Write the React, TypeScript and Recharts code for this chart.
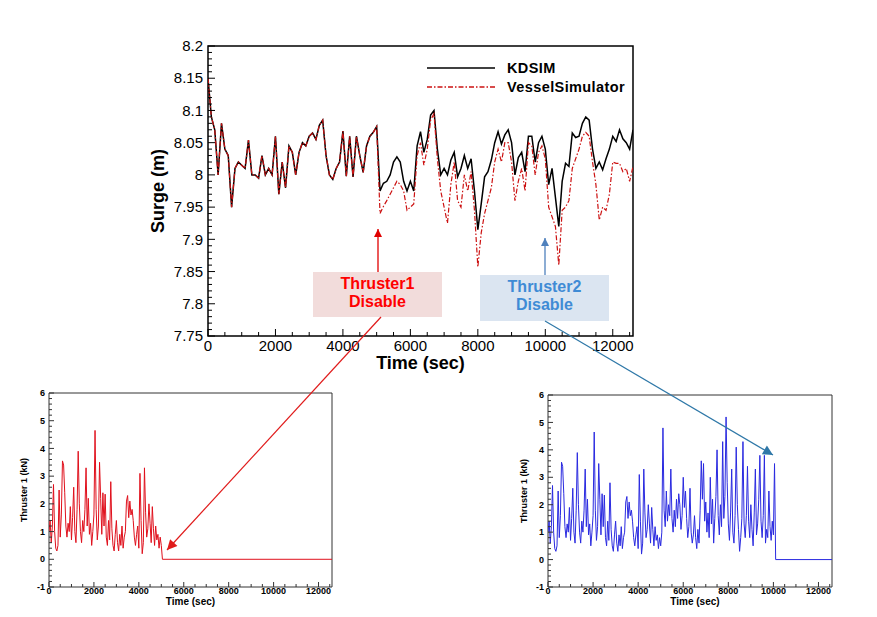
import { LineChart, Line, XAxis, YAxis, ReferenceArea, Legend } from 'recharts';

// Surge (m) every 100 s. Both runs lie on top of each other until thruster 1 is cut at 5000 s.
const surgeShared = [
  8.15, 8.09, 8.07, 8.0, 8.08, 8.04, 8.03, 7.95, 8.01, 8.02,
  8.015, 8.01, 8.054, 8.0, 8.0, 7.995, 8.03, 8.0, 8.01, 8.0,
  8.06, 7.97, 8.02, 7.98, 8.045, 8.035, 8.0, 8.035, 8.05, 8.045,
  8.06, 8.065, 8.055, 8.077, 8.085, 8.03, 8.0, 7.993, 8.01, 8.02,
  8.068, 7.998, 8.06, 7.997, 8.06, 8.03, 8.004, 8.045, 8.06, 8.066,
  8.075,
];
// 5100 .. 12600 s
const kdsimAfter = [
  7.975, 7.987, 7.99, 8.0, 8.02, 8.028, 8.02, 7.99, 7.975, 7.99,
  7.975, 8.045, 8.067, 8.035, 8.055, 8.093, 8.1, 8.04, 8.0, 8.01,
  8.0, 8.023, 8.035, 7.997, 8.01, 8.03, 8.01, 8.025, 7.975, 7.915,
  7.955, 7.997, 8.005, 8.023, 8.05, 8.067, 8.048, 8.062, 8.07, 8.05,
  8.0, 8.027, 8.035, 8.005, 8.06, 8.06, 8.02, 8.05, 8.06, 8.04,
  7.985, 8.01, 7.965, 7.92, 7.99, 8.018, 8.013, 8.065, 8.058, 8.06,
  8.08, 8.09, 8.085, 8.04, 8.01, 8.02, 8.008, 8.025, 8.04, 8.06,
  8.052, 8.07, 8.056, 8.05, 8.04, 8.07,
];
const vesselAfter = [
  7.94, 7.951, 7.96, 7.97, 7.98, 7.99, 7.985, 7.975, 7.945, 7.95,
  7.955, 8.03, 8.05, 8.015, 8.04, 8.085, 8.095, 8.025, 7.975, 7.95,
  7.925, 7.985, 8.02, 7.96, 7.95, 8.0, 7.975, 8.005, 7.945, 7.857,
  7.91, 7.94, 7.96, 7.98, 8.02, 8.04, 8.02, 8.05, 8.05, 8.02,
  7.96, 7.99, 8.01, 7.975, 8.05, 8.045, 8.0, 8.035, 8.045, 8.025,
  7.95, 7.935, 7.92, 7.86, 7.945, 7.95, 7.96, 8.01, 8.025, 8.04,
  8.06, 8.066, 8.06, 8.02, 7.985, 7.93, 7.95, 7.945, 7.97, 8.02,
  8.018, 8.018, 8.005, 8.01, 7.99, 8.013,
];

// Thruster force (kN) every 50 s, 0 .. 5000 s (same in both lower plots)
const thrusterShared = [
  1.0, 1.4, 0.6, 1.2, 2.7, 1.0, 0.4, 0.3, 0.5, 2.5,
  0.8, 1.6, 3.55, 3.4, 2.4, 1.2, 0.8, 1.3, 1.0, 1.9,
  0.7, 1.5, 2.6, 1.0, 0.6, 1.8, 3.9, 2.0, 1.0, 0.6,
  1.4, 1.0, 1.8, 3.3, 1.2, 2.2, 0.9, 1.3, 0.5, 1.0,
  1.6, 4.65, 1.8, 0.7, 1.2, 3.5, 2.2, 0.9, 2.4, 1.2,
  2.35, 0.8, 0.5, 1.4, 0.7, 2.8, 1.1, 0.5, 0.3, 0.9,
  1.4, 0.6, 0.3, 0.9, 0.5, 1.2, 0.4, 0.8, 1.0, 2.1,
  2.3, 1.5, 2.1, 1.6, 1.8, 1.4, 0.8, 0.5, 0.9, 1.2,
  0.4, 3.1, 1.4, 0.2, 0.6, 3.3, 1.7, 0.8, 1.1, 2.0,
  1.3, 0.6, 1.9, 1.1, 0.5, 1.2, 0.7, 0.9, 0.4, 0.8,
  0.5,
];
// 5050 .. 10050 s, second plot only
const thruster2After = [
  1.0, 4.8, 1.8, 1.2, 2.5, 1.4, 2.0, 1.6, 3.3, 1.5,
  1.0, 1.8, 1.2, 2.2, 1.5, 2.4, 2.0, 1.1, 1.6, 3.0,
  1.9, 2.5, 1.5, 0.8, 1.2, 2.6, 1.0, 0.6, 0.9, 1.6,
  0.8, 0.4, 1.1, 0.6, 1.8, 3.6, 2.2, 3.5, 1.4, 2.1,
  1.0, 1.7, 0.8, 3.0, 1.3, 2.2, 0.6, 1.5, 2.3, 4.0,
  1.6, 0.9, 2.0, 1.2, 4.3, 1.5, 2.3, 5.2, 2.8, 1.3,
  0.7, 1.7, 3.3, 1.0, 0.6, 1.6, 4.1, 2.0, 1.1, 0.3,
  0.8, 1.5, 4.3, 1.3, 0.8, 1.6, 3.4, 1.4, 0.8, 2.0,
  1.1, 0.5, 1.7, 3.3, 0.9, 1.3, 2.2, 3.8, 1.4, 0.8,
  1.6, 3.8, 0.6, 1.1, 0.8, 2.5, 1.2, 0.7, 1.4, 0.9,
  3.5,
];
const thruster1Off = [{ t: 5050, v: 0 }, { t: 12600, v: 0 }];
const thruster2Off = [{ t: 10100, v: 0 }, { t: 12600, v: 0 }];

const timeMajor = [0, 2000, 4000, 6000, 8000, 10000, 12000];
const surgeMajor = [7.75, 7.8, 7.85, 7.9, 7.95, 8, 8.05, 8.1, 8.15, 8.2];
const forceMajor = [-1, 0, 1, 2, 3, 4, 5, 6];

const FONT = '"Liberation Sans", Arial, sans-serif';

const range = (from: number, to: number, step: number) => {
  const out: number[] = [];
  const n = Math.round((to - from) / step);
  for (let i = 0; i <= n; i++) out.push(Math.round((from + i * step) * 1000) / 1000);
  return out;
};

const timeTicks = range(0, 12500, 500);
const surgeTicks = range(7.75, 8.2, 0.01);
const forceTicks = range(-1, 6, 0.2);

const surgeData = [...surgeShared, ...kdsimAfter].map((v, i) => ({
  t: i * 100,
  kdsim: v,
  vessel: [...surgeShared, ...vesselAfter][i],
}));
const thrusterOn = thrusterShared.map((v, i) => ({ t: i * 50, v }));
const thruster1Data = [...thrusterOn, ...thruster1Off];
const thruster2Data = [
  ...thrusterOn,
  ...thruster2After.map((v, i) => ({ t: 5050 + i * 50, v })),
  ...thruster2Off,
];

const isMajor = (majors: number[], v: number) => majors.some(m => Math.abs(m - v) < 1e-6);

// ticks point into the plot, labels only on the major ones
function makeYTick(majors: number[], fontSize: number, weight: number, len: [number, number], color: string, gap: number) {
  return (props: any) => {
    const { x, y, payload } = props;
    const major = isMajor(majors, payload.value);
    return (
      <g>
        <line x1={x} y1={y} x2={x + (major ? len[0] : len[1])} y2={y} stroke={color} strokeWidth={1} />
        {major && (
          <text x={x - gap} y={y} dy="0.35em" textAnchor="end" fontSize={fontSize} fontWeight={weight} fontFamily={FONT} fill="#000">
            {String(payload.value)}
          </text>
        )}
      </g>
    );
  };
}

function makeXTick(majors: number[], fontSize: number, weight: number, len: [number, number], color: string, gap: number) {
  return (props: any) => {
    const { x, y, payload } = props;
    const major = isMajor(majors, payload.value);
    return (
      <g>
        <line x1={x} y1={y} x2={x} y2={y - (major ? len[0] : len[1])} stroke={color} strokeWidth={1} />
        {major && (
          <text x={x} y={y + gap} dy="0.71em" textAnchor="middle" fontSize={fontSize} fontWeight={weight} fontFamily={FONT} fill="#000">
            {String(payload.value)}
          </text>
        )}
      </g>
    );
  };
}

function makeYTitle(text: string, dx: number, fontSize: number) {
  return (props: any) => {
    const vb = props.viewBox || { x: 0, y: 0, height: 0 };
    const cx = vb.x + dx;
    const cy = vb.y + vb.height / 2;
    return (
      <text x={cx} y={cy} transform={`rotate(-90 ${cx} ${cy})`} textAnchor="middle" dominantBaseline="central"
        fontSize={fontSize} fontWeight={700} fontFamily={FONT} fill="#000">
        {text}
      </text>
    );
  };
}

function makeXTitle(text: string, dy: number, fontSize: number, dx = 0) {
  return (props: any) => {
    const vb = props.viewBox || { x: 0, y: 0, width: 0 };
    return (
      <text x={vb.x + vb.width / 2 + dx} y={vb.y + dy} textAnchor="middle" dominantBaseline="central"
        fontSize={fontSize} fontWeight={700} fontFamily={FONT} fill="#000">
        {text}
      </text>
    );
  };
}

const VESSEL_DASH = '5 2 1.5 2';
const legendItems = [
  { name: 'KDSIM', color: '#000', dash: undefined as string | undefined },
  { name: 'VesselSimulator', color: '#cc1111', dash: VESSEL_DASH },
];

function SurgeLegend() {
  return (
    <div style={{ fontFamily: FONT, fontWeight: 700, fontSize: 14.5, color: '#000' }}>
      {legendItems.map(it => (
        <div key={it.name} style={{ display: 'flex', alignItems: 'center', height: 19 }}>
          <svg width={68} height={4} style={{ display: 'block' }}>
            <line x1={0} x2={68} y1={2} y2={2} stroke={it.color} strokeWidth={1.3} strokeDasharray={it.dash} />
          </svg>
          <span style={{ marginLeft: 12, whiteSpace: 'nowrap', letterSpacing: 0.4 }}>{it.name}</span>
        </div>
      ))}
    </div>
  );
}

function SurgeChart() {
  return (
    <LineChart width={510} height={350} data={surgeData} margin={{ top: 16, right: 17, bottom: 0, left: 0 }}>
      <XAxis dataKey="t" type="number" domain={[0, 12600]} ticks={timeTicks} interval={0} allowDataOverflow
        tickSize={0} tickMargin={0} axisLine={false} tickLine={false} height={44}
        tick={makeXTick(timeMajor, 15, 400, [7, 4], '#000', 4)} label={makeXTitle('Time (sec)', 27, 18)} />
      <YAxis type="number" domain={[7.75, 8.2]} ticks={surgeTicks} interval={0} allowDataOverflow
        tickSize={0} tickMargin={0} axisLine={false} tickLine={false} width={68}
        tick={makeYTick(surgeMajor, 15, 400, [7, 4], '#000', 5)} label={makeYTitle('Surge (m)', 18, 18)} />
      <ReferenceArea x1={0} x2={12600} y1={7.75} y2={8.2} fill="none" stroke="#000" strokeWidth={1.5} ifOverflow="visible" />
      <Line type="linear" dataKey="kdsim" name="KDSIM" stroke="#000" strokeWidth={1.5} dot={false} isAnimationActive={false} />
      <Line type="linear" dataKey="vessel" name="VesselSimulator" stroke="#cc1111" strokeWidth={1.2}
        strokeDasharray={VESSEL_DASH} dot={false} isAnimationActive={false} />
      <Legend layout="vertical" align="center" verticalAlign="middle" content={<SurgeLegend />}
        wrapperStyle={{ left: 287, top: 28, width: 220 }} />
    </LineChart>
  );
}

function ThrusterChart({ data, color, width, height, titleDx, xTitleDx }: {
  data: { t: number; v: number }[]; color: string; width: number; height: number; titleDx: number; xTitleDx: number;
}) {
  return (
    <LineChart width={width} height={height} data={data} margin={{ top: 10, right: 13, bottom: 0, left: 0 }}>
      <XAxis dataKey="t" type="number" domain={[0, 12600]} ticks={timeTicks} interval={0} allowDataOverflow
        tickSize={0} tickMargin={0} axisLine={false} tickLine={false} height={30}
        tick={makeXTick(timeMajor, 9, 700, [5, 3], '#333', 1)} label={makeXTitle('Time (sec)', 14, 10, xTitleDx)} />
      <YAxis type="number" domain={[-1, 6]} ticks={forceTicks} interval={0} allowDataOverflow
        tickSize={0} tickMargin={0} axisLine={false} tickLine={false} width={49}
        tick={makeYTick(forceMajor, 9, 700, [5, 3], '#333', 4)} label={makeYTitle('Thruster 1 (kN)', titleDx, 9)} />
      <ReferenceArea x1={0} x2={12600} y1={-1} y2={6} fill="none" stroke="#333" strokeWidth={1} ifOverflow="visible" />
      <Line type="linear" dataKey="v" stroke={color} strokeWidth={1} dot={false} isAnimationActive={false} />
    </LineChart>
  );
}

function Callout({ x, y, w, h, fill, color, lines }: {
  x: number; y: number; w: number; h: number; fill: string; color: string; lines: string[];
}) {
  return (
    <g>
      <rect x={x} y={y} width={w} height={h} fill={fill} />
      {lines.map((l, i) => (
        <text key={l} x={x + w / 2} y={y + 17 + i * 18} textAnchor="middle" fontSize={16} fontWeight={700}
          fontFamily={FONT} fill={color}>
          {l}
        </text>
      ))}
    </g>
  );
}

function Annotations() {
  return (
    <svg width={877} height={617} style={{ position: 'absolute', left: 0, top: 0, pointerEvents: 'none' }}>
      <defs>
        <marker id="headRed" viewBox="0 0 10 10" refX={10} refY={5} markerWidth={12} markerHeight={10}
          markerUnits="userSpaceOnUse" orient="auto">
          <path d="M0,0 L10,5 L0,10 z" fill="#e01b1b" />
        </marker>
        <marker id="headBlue" viewBox="0 0 10 10" refX={10} refY={5} markerWidth={12} markerHeight={10}
          markerUnits="userSpaceOnUse" orient="auto">
          <path d="M0,0 L10,5 L0,10 z" fill="#2f78a8" />
        </marker>
        <marker id="headRedS" viewBox="0 0 10 10" refX={10} refY={5} markerWidth={9} markerHeight={8}
          markerUnits="userSpaceOnUse" orient="auto">
          <path d="M0,0 L10,5 L0,10 z" fill="#e00000" />
        </marker>
        <marker id="headBlueS" viewBox="0 0 10 10" refX={10} refY={5} markerWidth={9} markerHeight={8}
          markerUnits="userSpaceOnUse" orient="auto">
          <path d="M0,0 L10,5 L0,10 z" fill="#4f81bd" />
        </marker>
      </defs>

      <line x1={378} y1={272} x2={378} y2={229} stroke="#e00000" strokeWidth={1.3} markerEnd="url(#headRedS)" />
      <line x1={545} y1={275} x2={545} y2={238} stroke="#4f81bd" strokeWidth={1.3} markerEnd="url(#headBlueS)" />

      <Callout x={313} y={272} w={129} h={45} fill="#f2dcdb" color="#ff0000" lines={['Thruster1', 'Disable']} />
      <Callout x={480} y={275} w={129} h={46} fill="#dbe5f1" color="#3f8bd5" lines={['Thruster2', 'Disable']} />

      <line x1={381} y1={317} x2={167} y2={550} stroke="#e01b1b" strokeWidth={1.2} markerEnd="url(#headRed)" />
      <line x1={545} y1={321} x2={773} y2={455} stroke="#2f78a8" strokeWidth={1.2} markerEnd="url(#headBlue)" />
    </svg>
  );
}

export default function App() {
  return (
    <div style={{ position: 'absolute', left: 0, top: 0, width: 877, height: 617, background: '#fff', fontFamily: FONT, overflow: 'hidden' }}>
      <div style={{ position: 'absolute', left: 140, top: 30 }}>
        <SurgeChart />
      </div>
      <div style={{ position: 'absolute', left: 0, top: 383 }}>
        <ThrusterChart data={thruster1Data} color="#e0101c" width={345} height={234} titleDx={24} xTitleDx={0} />
      </div>
      <div style={{ position: 'absolute', left: 499, top: 385 }}>
        <ThrusterChart data={thruster2Data} color="#2a2ae0" width={346} height={232} titleDx={25} xTitleDx={5} />
      </div>
      <Annotations />
    </div>
  );
}
